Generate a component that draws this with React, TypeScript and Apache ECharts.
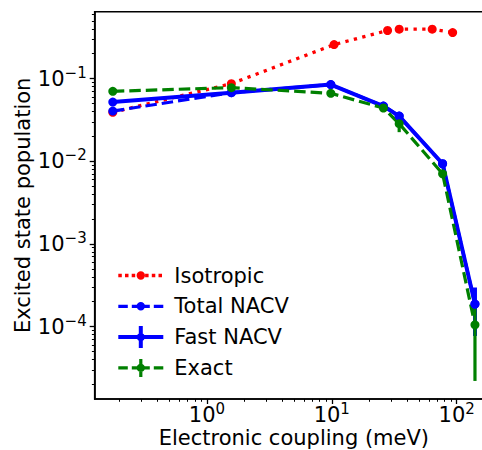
import React, { useEffect, useRef } from "react";
import * as echarts from "echarts";

// ---- data ----
const couplingIso = [0.1762, 1.569, 10.43, 27.97, 34.65, 63.7, 92.9];
const isotropic = [0.0391, 0.0869, 0.258, 0.382, 0.396, 0.396, 0.361];

const coupling = [0.1762, 1.569, 9.82, 25.9, 34.65, 77.2, 140.2];
const totalNacv = [0.0405, 0.0676, 0.0846, 0.0466, 0.0352, 0.00933, 0.000187];
const fastNacv = [0.052, 0.0676, 0.0846, 0.0466, 0.0352, 0.00933, 0.000187];
const fastNacvErr = [0.0012, 0.0015, 0.0018, 0.001, 0.0012, 0.0003, 0.00011];
const exact = [0.0702, 0.0778, 0.0664, 0.0441, 0.0285, 0.00705, 0.000105];
const exactErr = [0.0015, 0.0015, 0.0015, 0.0015, 0.006, 0.0005, 0.000083];

// ---- axes ----
const X_MIN = 0.1262;
const X_MAX = 195.5;
const Y_MIN = 1.33e-5;
const Y_MAX = 0.645;
const xMajor = [1, 10, 100];
const xMinor = [0.2, 0.3, 0.4, 0.5, 0.6, 0.7, 0.8, 0.9, 2, 3, 4, 5, 6, 7, 8, 9, 20, 30, 40, 50, 60, 70, 80, 90];
const yMajor = [0.0001, 0.001, 0.01, 0.1];
const yMinor = [
  2e-5, 3e-5, 4e-5, 5e-5, 6e-5, 7e-5, 8e-5, 9e-5,
  2e-4, 3e-4, 4e-4, 5e-4, 6e-4, 7e-4, 8e-4, 9e-4,
  2e-3, 3e-3, 4e-3, 5e-3, 6e-3, 7e-3, 8e-3, 9e-3,
  2e-2, 3e-2, 4e-2, 5e-2, 6e-2, 7e-2, 8e-2, 9e-2,
  0.2, 0.3, 0.4, 0.5, 0.6,
];

const FONT = "DejaVu Sans";
const RED = "#ff0000";
const BLUE = "#0000ff";
const GREEN = "#008000";

// ---- legend icon shapes (icon box 51 x 22, drawn part 45 wide) ----
const IW = 51;
const IH = 22;
const LL = 45;
const CY = 11;
const rect = (x: number, y: number, w: number, h: number) =>
  `M${x} ${y}L${x + w} ${y}L${x + w} ${y + h}L${x} ${y + h}Z`;
const circ = (cx: number, cy: number, r: number) =>
  `M${cx - r} ${cy}A${r} ${r} 0 1 1 ${cx + r} ${cy}A${r} ${r} 0 1 1 ${cx - r} ${cy}Z`;
const anchors = rect(0, 0, 0.01, 0.01) + rect(IW - 0.01, IH - 0.01, 0.01, 0.01);
const segs = (list: number[][], lw: number) =>
  list.map(([a, b]) => rect(a, CY - lw / 2, b - a, lw)).join("");

const iconIso =
  "path://" +
  anchors +
  segs([[0, 3.5], [6.7, 10.2], [13.4, 16.9], [20.1, 23.6], [26.8, 30.3], [33.5, 37], [40.2, 43.7]], 3.4) +
  circ(LL / 2, CY, 4.2);
const iconTotal =
  "path://" + anchors + segs([[0, 9.5], [13.5, 31.5], [35.5, 45]], 3.2) + circ(LL / 2, CY, 4.2);
const iconFast =
  "path://" + anchors + segs([[0, 45]], 4) + rect(LL / 2 - 2, 0, 4, 22) + circ(LL / 2, CY, 4.2);
const iconExact =
  "path://" +
  anchors +
  segs([[0, 9.5], [13.5, 31.5], [35.5, 45]], 3.2) +
  rect(LL / 2 - 1.6, 2, 3.2, 18) +
  circ(LL / 2, CY, 4.2);

const supLabel = (v: number) => {
  const e = Math.round(Math.log10(v));
  return `{b|10}{s|${e < 0 ? "\u2212" + -e : e}}`;
};
const rich = {
  b: { fontSize: 21, fontFamily: FONT, color: "#000" },
  s: { fontSize: 15, fontFamily: FONT, color: "#000", padding: [0, 0, 12, 0] },
};

const errRender = (color: string, width: number) => (params: any, api: any) => {
  const x = api.value(0);
  const lo = api.value(1);
  const hi = api.value(2);
  const a = api.coord([x, lo]);
  const b = api.coord([x, hi]);
  return {
    type: "line",
    shape: { x1: a[0], y1: a[1], x2: b[0], y2: b[1] },
    style: { stroke: color, lineWidth: width },
  };
};

export default function App() {
  const ref = useRef<HTMLDivElement>(null);
  useEffect(() => {
    if (!ref.current) return;
    const chart = echarts.init(ref.current, null, { renderer: "svg" });
    const axisName = { fontSize: 21, fontFamily: FONT, color: "#000" };
    const option: any = {
      animation: false,
      grid: {
        left: 94.7,
        top: 11.7,
        width: 398.3,
        height: 387.3,
        show: true,
        borderColor: "#000",
        borderWidth: 1.6,
        containLabel: false,
        outerBoundsMode: "none",
      },
      xAxis: [
        {
          type: "log",
          min: X_MIN,
          max: X_MAX,
          position: "bottom",
          axisLine: { show: true, lineStyle: { color: "#000", width: 1.6 } },
          axisTick: { show: true, customValues: xMajor, length: 5, lineStyle: { color: "#000", width: 1.3 } },
          axisLabel: { customValues: xMajor, formatter: supLabel, rich, margin: 2 },
          splitLine: { show: false },
          name: "Electronic coupling (meV)",
          nameLocation: "middle",
          nameGap: 28,
          nameMoveOverlap: false,
          nameTextStyle: axisName,
        },
        {
          type: "log",
          min: X_MIN,
          max: X_MAX,
          position: "bottom",
          offset: 0,
          axisLine: { show: false },
          axisTick: { show: true, customValues: xMinor, length: 2.8, lineStyle: { color: "#000", width: 1 } },
          axisLabel: { show: false },
          splitLine: { show: false },
        },
      ],
      yAxis: [
        {
          type: "log",
          min: Y_MIN,
          max: Y_MAX,
          position: "left",
          axisLine: { show: true, lineStyle: { color: "#000", width: 1.6 } },
          axisTick: { show: true, customValues: yMajor, length: 5, lineStyle: { color: "#000", width: 1.3 } },
          axisLabel: { customValues: yMajor, formatter: supLabel, rich, margin: 8 },
          splitLine: { show: false },
          name: "Excited state population",
          nameLocation: "middle",
          nameGap: 61,
          nameMoveOverlap: false,
          nameTextStyle: axisName,
        },
        {
          type: "log",
          min: Y_MIN,
          max: Y_MAX,
          position: "left",
          offset: 0,
          axisLine: { show: false },
          axisTick: { show: true, customValues: yMinor, length: 2.8, lineStyle: { color: "#000", width: 1 } },
          axisLabel: { show: false },
          splitLine: { show: false },
        },
      ],
      legend: {
        orient: "vertical",
        left: 113.3,
        top: 259.5,
        itemWidth: IW,
        itemHeight: IH,
        itemGap: 8.8,
        selectedMode: false,
        itemStyle: { borderWidth: 0 },
        textStyle: { fontSize: 21, fontFamily: FONT, color: "#000" },
        data: [
          { name: "Isotropic", icon: iconIso },
          { name: "Total NACV", icon: iconTotal },
          { name: "Fast NACV", icon: iconFast },
          { name: "Exact", icon: iconExact },
        ],
      },
      series: [
        {
          name: "Isotropic",
          type: "line",
          data: couplingIso.map((x, i) => [x, isotropic[i]]),
          symbol: "circle",
          symbolSize: 9,
          itemStyle: { color: RED, borderWidth: 0 },
          lineStyle: { color: RED, width: 3.3, type: [3.3, 5.4], cap: "butt" },
        },
        {
          name: "Total NACV",
          type: "line",
          data: coupling.map((x, i) => [x, totalNacv[i]]),
          symbol: "circle",
          symbolSize: 9,
          itemStyle: { color: BLUE, borderWidth: 0 },
          lineStyle: { color: BLUE, width: 3.2, type: [11.5, 5], cap: "butt" },
        },
        {
          name: "Fast NACV",
          type: "line",
          data: coupling.map((x, i) => [x, fastNacv[i]]),
          symbol: "circle",
          symbolSize: 9,
          itemStyle: { color: BLUE, borderWidth: 0 },
          lineStyle: { color: BLUE, width: 4 },
        },
        {
          name: "Fast NACV err",
          type: "custom",
          renderItem: errRender(BLUE, 4),
          data: coupling.map((x, i) => [x, fastNacv[i] - fastNacvErr[i], fastNacv[i] + fastNacvErr[i]]),
          encode: { x: 0, y: [1, 2] },
        },
        {
          name: "Exact",
          type: "line",
          data: coupling.map((x, i) => [x, exact[i]]),
          symbol: "circle",
          symbolSize: 9,
          itemStyle: { color: GREEN, borderWidth: 0 },
          lineStyle: { color: GREEN, width: 3.2, type: [11.5, 5], cap: "butt" },
        },
        {
          name: "Exact err",
          type: "custom",
          renderItem: errRender(GREEN, 3.2),
          data: coupling.map((x, i) => [x, exact[i] - exactErr[i], exact[i] + exactErr[i]]),
          encode: { x: 0, y: [1, 2] },
        },
      ],
    };
    chart.setOption(option);
    return () => chart.dispose();
  }, []);
  return (
    <div
      ref={ref}
      style={{ position: "absolute", left: 0, top: 0, width: 482, height: 450 }}
    />
  );
}
